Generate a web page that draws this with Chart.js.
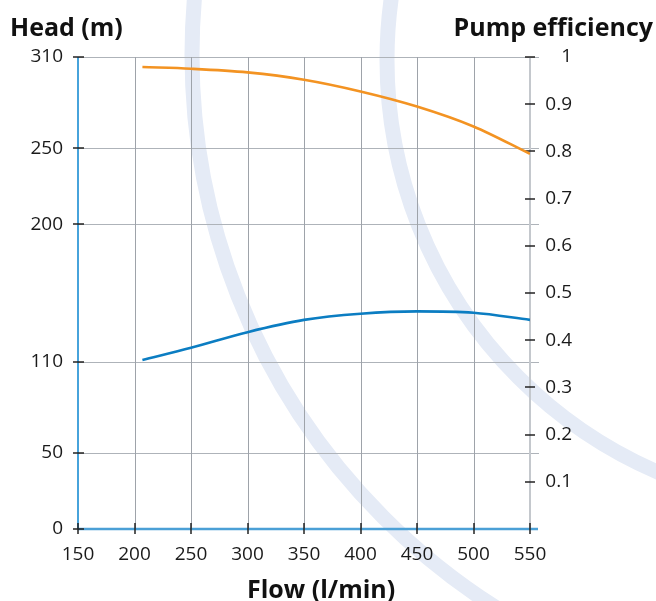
<!DOCTYPE html>
<html>
<head>
<meta charset="utf-8">
<script src="https://cdn.jsdelivr.net/npm/chart.js@4.4.1/dist/chart.umd.min.js"></script>
<style>
  html,body{margin:0;padding:0;background:#fff;}
  #wrap{position:relative;width:656px;height:601px;overflow:hidden;}
  canvas{position:absolute;left:0;top:0;}
  .ttl{position:absolute;font-family:"Open Sans",sans-serif;font-weight:700;font-size:25px;line-height:24px;color:#111;white-space:nowrap;}
</style>
</head>
<body>
<div id="wrap">
  <canvas id="c" width="656" height="601"></canvas>
  <div class="ttl" id="tl" style="left:10px;top:14px;">Head (m)</div>
  <div class="ttl" id="tr" style="right:3px;top:14px;">Pump efficiency</div>
  <div class="ttl" id="tb" style="left:247px;top:576px;">Flow (l/min)</div>
</div>
<script>
// ---- data ----
const flowTicks = [150, 200, 250, 300, 350, 400, 450, 500, 550];
const headTicks = [0, 50, 110, 200, 250, 310];
const effTicks = [0.1, 0.2, 0.3, 0.4, 0.5, 0.6, 0.7, 0.8, 0.9, 1];

const flow = [207, 250, 300, 350, 400, 450, 500, 550];
const head = [303.4, 302.3, 299.9, 295.1, 287.4, 277.5, 264.4, 246.4];
const efficiency = [0.358, 0.384, 0.417, 0.443, 0.456, 0.461, 0.458, 0.443];

const tickFont = {family: "'Open Sans', sans-serif", size: 19};
const tickColor = '#1a1a1a';

function seg(ctx, x1, y1, x2, y2) {
  ctx.beginPath(); ctx.moveTo(x1, y1); ctx.lineTo(x2, y2); ctx.stroke();
}

const decor = {
  id: 'decor',
  beforeDraw(chart) {
    const ctx = chart.ctx;
    ctx.save();
    // watermark arcs
    ctx.strokeStyle = 'rgb(229,235,246)';
    ctx.lineWidth = 15;
    ctx.beginPath(); ctx.arc(846, 55, 654, Math.PI / 2, Math.PI * 1.2); ctx.stroke();
    ctx.beginPath(); ctx.arc(836, 60, 449, Math.PI / 2, Math.PI * 1.2); ctx.stroke();

    const {left, right, top, bottom} = chart.chartArea;
    const xs = chart.scales.x, yL = chart.scales.yL;
    // horizontal grid
    ctx.lineWidth = 1;
    ctx.strokeStyle = '#aeb3b9';
    yL.ticks.forEach(t => {
      if (t.value === 0) return;
      const py = Math.round(yL.getPixelForValue(t.value)) + 0.5;
      seg(ctx, left, py, right + 9, py);
    });
    // vertical grid
    ctx.strokeStyle = '#9ea3aa';
    xs.ticks.forEach(t => {
      if (t.value <= 150 || t.value >= 550) return;
      const px = Math.round(xs.getPixelForValue(t.value)) + 0.5;
      seg(ctx, px, top, px, bottom);
    });
    // right axis line
    ctx.strokeStyle = '#c4c8cd';
    ctx.lineWidth = 2;
    seg(ctx, right, top, right, bottom);
    // left axis line
    ctx.strokeStyle = '#0a84cf';
    ctx.lineWidth = 1.5;
    seg(ctx, left, top, left, bottom);
    // bottom axis line
    ctx.strokeStyle = '#4ba0d6';
    ctx.lineWidth = 2.5;
    seg(ctx, left, bottom, right + 8, bottom);
    ctx.restore();
  },
  beforeDatasetsDraw(chart) {
    const ctx = chart.ctx;
    const {left, right, bottom} = chart.chartArea;
    const xs = chart.scales.x, yL = chart.scales.yL, yR = chart.scales.yR;
    ctx.save();
    ctx.strokeStyle = '#222';
    ctx.lineWidth = 1.5;
    yL.ticks.forEach(t => {
      const py = Math.round(yL.getPixelForValue(t.value));
      seg(ctx, left - 5, py, left + 6, py);
    });
    yR.ticks.forEach(t => {
      const py = Math.round(yR.getPixelForValue(t.value));
      seg(ctx, right - 5, py, right + 5, py);
    });
    xs.ticks.forEach(t => {
      const px = Math.round(xs.getPixelForValue(t.value));
      seg(ctx, px, bottom - 6, px, bottom + 5);
    });
    ctx.restore();
  }
};

new Chart(document.getElementById('c'), {
  type: 'line',
  data: {
    datasets: [
      {
        label: 'Head',
        data: flow.map((f, i) => ({x: f, y: head[i]})),
        yAxisID: 'yL',
        borderColor: '#f39322',
        borderWidth: 2.6,
        pointRadius: 0,
        cubicInterpolationMode: 'monotone',
        fill: false
      },
      {
        label: 'Pump efficiency',
        data: flow.map((f, i) => ({x: f, y: efficiency[i]})),
        yAxisID: 'yR',
        borderColor: '#0b7dc2',
        borderWidth: 2.6,
        pointRadius: 0,
        cubicInterpolationMode: 'monotone',
        fill: false
      }
    ]
  },
  options: {
    responsive: false,
    animation: false,
    devicePixelRatio: 1,
    layout: {padding: {top: 57, left: 0, right: 84, bottom: 0}},
    plugins: {legend: {display: false}, tooltip: {enabled: false}, title: {display: false}},
    scales: {
      x: {
        type: 'linear', min: 150, max: 550,
        afterBuildTicks: s => { s.ticks = flowTicks.map(v => ({value: v})); },
        grid: {display: false, drawTicks: false},
        border: {display: false},
        ticks: {padding: 14, font: tickFont, color: tickColor, maxRotation: 0, autoSkip: false},
        afterFit: s => { s.height = 72; }
      },
      yL: {
        type: 'linear', position: 'left', min: 0, max: 310,
        afterBuildTicks: s => { s.ticks = headTicks.map(v => ({value: v})); },
        grid: {display: false, drawTicks: false},
        border: {display: false},
        ticks: {padding: 15, font: tickFont, color: tickColor, autoSkip: false},
        afterFit: s => { s.width = 78; }
      },
      yR: {
        type: 'linear', position: 'right', min: 0, max: 1,
        afterBuildTicks: s => { s.ticks = effTicks.map(v => ({value: v})); },
        grid: {display: false, drawTicks: false},
        border: {display: false},
        ticks: {padding: 12, crossAlign: 'far', font: tickFont, color: tickColor, autoSkip: false,
                callback: v => String(v)},
        afterFit: s => { s.width = 42; }
      }
    }
  },
  plugins: [decor]
});
</script>
</body>
</html>
